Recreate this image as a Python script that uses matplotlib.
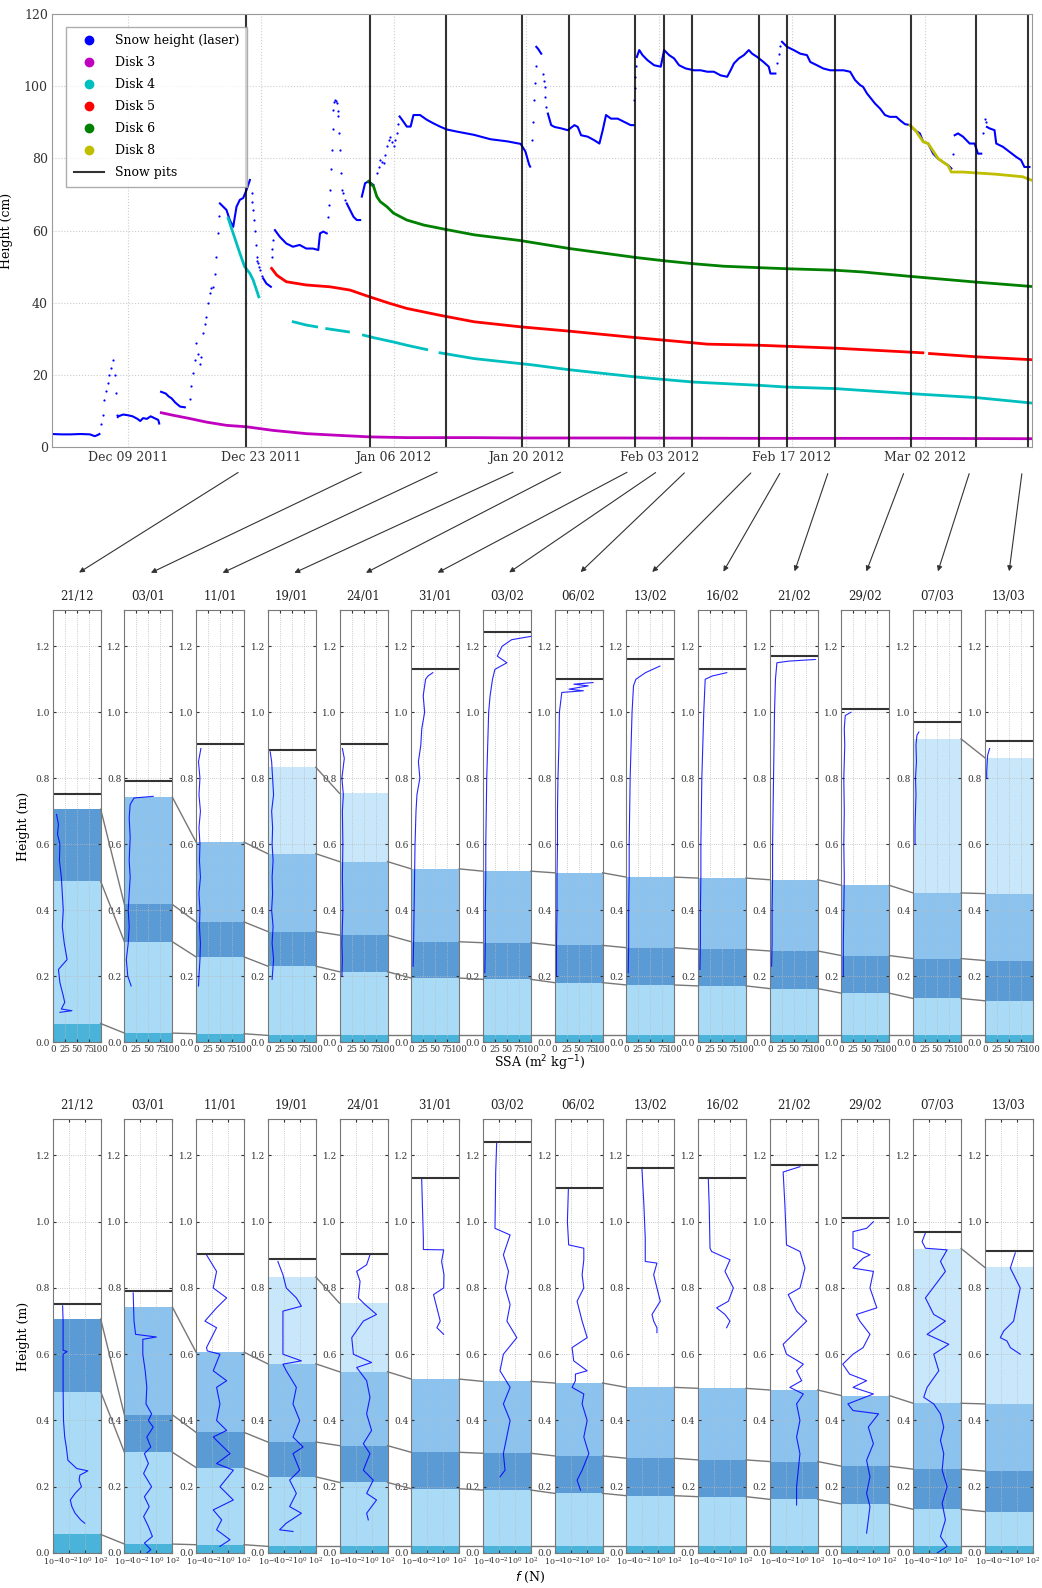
import matplotlib
matplotlib.use("Agg")
import matplotlib.pyplot as plt
import matplotlib.dates as mdates
from matplotlib.lines import Line2D
from matplotlib.patches import FancyArrowPatch
import numpy as np
from datetime import datetime, timedelta

plt.rcParams['font.family'] = ['DejaVu Serif']

# ---------------- data: top panel (days since 2011-12-01, height in cm) -------------
T0 = datetime(2011, 12, 1)
NAN = float('nan')

laser_line_days = [0, 1, 2, 3, 4, 4.5, 4.8, 5.0, NAN,
    6.94, 7.0, 7.5, 8.0, 8.5, 9.0, 9.3, 9.6, 10.0, 10.4, 10.8, 11.2, 11.3, NAN,
    11.5, 12.0, 12.3, 12.6, 13.0, 13.5, 14.0, NAN,
    17.7, 18.04, 18.39, 18.74, 19.1, 19.45, 19.8, 20.15, 20.5, 20.86, NAN,
    22.27, 22.6, 23.07, NAN,
    23.5, 24.0, 24.7, 25.4, 26.1, 26.8, 27.5, 28.07, 28.25, 28.6, 28.96, NAN,
    31.07, 31.42, 31.78, 32.13, 32.48, NAN,
    32.66, 33.0, 33.36, 33.89, NAN,
    36.64, 36.9, 37.4, 37.8, 38.1, 38.8, 39.5, 40.2, 40.9, 41.6, 42.7, 44.5, 46.2, 48.0, 49.4, 49.9, 50.3, 50.4, NAN,
    51.05, 51.22, 51.57, NAN,
    52.27, 52.62, 52.97, 53.67, 54.37, 55.07, 55.42, 55.77, 56.47, 57.17, 57.7, 58.05, 58.4, 58.92, 59.63, 60.32, 61.0, 61.3, NAN,
    61.65, 61.9, 62.25, 62.77, 63.47, 64.17, 64.52, 65.05, 65.57, 66.1, 66.8, 67.68, 68.37, 69.08, 69.77, 70.47, 71.17, 71.53, 71.88, 72.4, 72.93, 73.45, 73.8, 74.33, 75.0, 75.55, 75.73, 76.25, NAN,
    76.95, 77.48, 78.18, 78.88, 79.58, 79.93, 80.63, 81.3, 82.03, 82.73, 83.43, 84.13, 84.65, 85.18, 85.5, 85.9, 86.2, 86.75, 87.28, 87.8, 88.3, 89.0, 89.37, 89.9, 90.43, 90.95, 91.48, 91.83, 92.35, 92.88, 93.4, 93.9, 94.45, 94.8, NAN,
    95.15, 95.5, 96.03, 96.73, 97.25, 97.6, 97.95, NAN,
    98.55, 98.83, 99.35, 99.53, 100.23, 100.93, 101.63, 102.15, 102.5, 103.03]
laser_line_cm = [3.6, 3.5, 3.5, 3.6, 3.5, 3.0, 3.3, 3.6, NAN,
    8.3, 8.5, 9.0, 8.8, 8.5, 7.8, 7.2, 8.0, 7.8, 8.5, 8.0, 7.5, 6.5, NAN,
    15.3, 14.8, 14.0, 13.5, 12.3, 11.2, 11.0, NAN,
    67.5, 66.6, 65.7, 62.9, 61.0, 66.6, 68.5, 69.0, 71.2, 74.0, NAN,
    46.7, 45.3, 44.4, NAN,
    60.1, 58.3, 56.4, 55.5, 56.0, 55.0, 55.0, 54.6, 59.2, 59.7, 59.2, NAN,
    67.5, 65.7, 63.8, 62.9, 62.9, NAN,
    69.4, 73.1, 73.6, 72.6, NAN,
    91.6, 90.7, 88.8, 88.8, 92.0, 92.0, 90.7, 89.7, 88.8, 88.0, 87.4, 86.5, 85.3, 84.7, 84.0, 81.9, 78.2, 77.7, NAN,
    110.9, 110.4, 109.0, NAN,
    92.4, 89.2, 88.7, 88.3, 87.8, 89.2, 88.7, 86.4, 86.0, 85.0, 84.1, 87.8, 92.0, 91.0, 91.0, 90.1, 89.2, 89.2, NAN,
    108.1, 110.0, 108.6, 107.2, 105.8, 105.4, 110.0, 108.6, 107.7, 105.8, 104.9, 104.4, 104.4, 104.0, 104.0, 103.0, 102.6, 104.4, 106.3, 107.7, 108.6, 110.0, 109.0, 108.1, 106.7, 105.4, 103.5, 103.5, NAN,
    112.3, 110.9, 110.0, 109.0, 108.6, 106.7, 105.8, 104.9, 104.4, 104.4, 104.4, 104.0, 101.7, 100.3, 99.8, 98.0, 97.0, 95.2, 93.8, 92.0, 91.5, 91.5, 90.6, 89.5, 89.2, 87.8, 86.9, 84.6, 84.1, 81.3, 79.9, 79.0, 78.1, 77.2, NAN,
    86.4, 86.9, 86.0, 84.1, 84.1, 81.3, 81.3, NAN,
    88.7, 88.3, 87.8, 84.1, 83.2, 81.8, 80.4, 79.5, 77.6, 77.6]

laser_dot_days = [5.18, 5.35, 5.53, 5.7, 5.89, 6.05, 6.24, 6.41, 6.6, 6.7, 6.84,
    14.5, 14.7, 14.87, 15.05, 15.22, 15.4, 15.55, 15.75, 15.93, 16.1, 16.28, 16.45, 16.63, 16.8, 16.98, 17.15, 17.33, 17.51, 17.6,
    21.03, 21.12, 21.2, 21.29, 21.38, 21.47, 21.56, 21.65, 21.74, 21.83, 21.91, 22.1,
    23.15, 23.24, 23.32,
    29.13, 29.22, 29.31, 29.4, 29.49, 29.57, 29.66, 29.75, 29.84, 29.92, 30.0, 30.1, 30.19, 30.28, 30.37, 30.45, 30.54, 30.7, 30.9,
    34.24, 34.42, 34.6, 34.78, 34.95, 35.12, 35.3, 35.48, 35.65, 35.83, 36.0, 36.18, 36.36, 36.5,
    50.6, 50.7, 50.8, 50.88, 50.97,
    51.75, 51.83, 51.92, 52.0, 52.1,
    61.37, 61.43, 61.48, 61.56,
    76.43, 76.6, 76.78,
    95.0,
    98.13, 98.3, 98.4]
laser_dot_cm = [6.5, 9, 13, 15.5, 17.6, 20, 22, 24, 20, 15, 9,
    13.4, 17, 20.4, 24, 28.7, 25.9, 23, 25, 31.5, 34, 36, 40, 42.6, 44, 44.4, 48, 52.7, 59.2, 64,
    70.3, 68, 65.7, 63, 60, 56, 52.7, 51.5, 50.9, 50, 49, 47.5,
    52.7, 55, 57.4,
    63.8, 67, 71.2, 77, 82.3, 88, 93.4, 95.5, 96.2, 95.8, 95.3, 93, 91.6, 87, 82.3, 76, 71.2, 70.3, 68.5,
    75.9, 77.5, 79.6, 79, 78.6, 81, 83.3, 85, 86, 84.5, 83.3, 85, 87, 89.5,
    85.1, 90, 96.2, 101, 105.5,
    103.5, 101.5, 99.8, 97, 94.3,
    96.1, 99.5, 102.6, 105.5,
    106.3, 109, 111,
    81.3,
    86.9, 91.0, 90]

disk3_days = [11.52, 12.75, 14.5, 16.28, 18.39, 20.5, 23.3, 26.8, 30.4, 33.5, 37.4, 44.5, 49.4, 60, 75, 90, 103.2]
disk3_cm = [9.5, 8.8, 7.9, 6.9, 6.0, 5.6, 4.6, 3.7, 3.2, 2.8, 2.6, 2.6, 2.5, 2.5, 2.4, 2.4, 2.3]

disk4_days = [18.57, 19.1, 19.8, 20.3, 20.86, 21.2, 21.56, 21.8, NAN,
    25.43, 26.8, 27.9, NAN, 28.96, 31.25, NAN,
    32.83, 33.9, 36.0, 37.4, 39.5, NAN,
    40.9, 44.5, 49.4, 50.5, 54.55, 61.6, 64.56, 67.57, 74.5, 77.5, 82.5, 90.4, 97.4, 103.2]
disk4_cm = [63.4, 59.2, 53.7, 50.0, 48.1, 46.3, 43.5, 41.6, NAN,
    34.7, 33.8, 33.3, NAN, 32.8, 31.9, NAN,
    31.0, 30.3, 29.1, 28.2, 27.0, NAN,
    26.1, 24.5, 23.1, 22.8, 21.4, 19.4, 18.7, 18.0, 17.1, 16.6, 16.2, 14.8, 13.7, 12.2]

disk5_days = [23.15, 23.7, 24.7, 26.8, 29.3, 31.4, 33.5, 35.6, 37.4, 40.9, 44.5, 49.4, 54.55, 61.6, 64.56, 69.1, 74.5, 82.5, 91.8, NAN,
    92.5, 97.4, 103.2]
disk5_cm = [49.5, 47.6, 45.8, 44.9, 44.4, 43.5, 41.6, 39.8, 38.4, 36.5, 34.7, 33.3, 32.1, 30.3, 29.6, 28.5, 28.2, 27.4, 26.1, NAN,
    25.9, 25.0, 24.2]

disk6_days = [33.36, 33.9, 34.24, 34.6, 35.3, 36.0, 37.4, 39.2, 41.5, 44.5, 49.4, 54.55, 61.6, 64.56, 67.57, 70.8, 74.5, 77.5, 82.5, 85.5, 90.4, 97.4, 103.2]
disk6_cm = [73.6, 72.2, 69.4, 68.0, 66.6, 64.8, 62.9, 61.5, 60.3, 58.8, 57.2, 55.0, 52.5, 51.6, 50.8, 50.1, 49.7, 49.4, 49.0, 48.5, 47.3, 45.7, 44.5]

disk8_days = [90.43, 91.0, 91.83, 92.35, 93.4, 93.9, 94.45, 94.8, 96.0, 99.5, 102.3, 103.2]
disk8_cm = [89.2, 87.8, 84.6, 84.1, 80.0, 79.0, 78.0, 76.2, 76.2, 75.6, 74.9, 74.0]

pit_days = [20.5, 33.5, 41.5, 49.5, 54.5, 61.5, 64.5, 67.5, 74.5, 77.5, 82.5, 90.5, 97.4, 102.9]
pit_labels = ['21/12', '03/01', '11/01', '19/01', '24/01', '31/01', '03/02',
              '06/02', '13/02', '16/02', '21/02', '29/02', '07/03', '13/03']
date_ticks = [datetime(2011, 12, 9), datetime(2011, 12, 23), datetime(2012, 1, 6),
              datetime(2012, 1, 20), datetime(2012, 2, 3), datetime(2012, 2, 17), datetime(2012, 3, 2)]

# ---------------- data: snow pits ----------------
surface_m = [0.751, 0.792, 0.903, 0.886, 0.903, 1.131, 1.242, 1.101, 1.161, 1.131, 1.170, 1.011, 0.969, 0.912]
# top of each layer (m), None if absent
layer_ground = [0.056, 0.027, 0.025, 0.02, 0.02, 0.02, 0.02, 0.02, 0.02, 0.02, 0.02, 0.02, 0.02, 0.02]
layer_light = [0.487, 0.304, 0.258, 0.230, 0.213, 0.194, 0.190, 0.180, 0.173, 0.170, 0.162, 0.148, 0.132, 0.125]
layer_dark = [0.706, 0.417, 0.364, 0.335, 0.324, 0.304, 0.301, 0.293, 0.286, 0.281, 0.276, 0.262, 0.253, 0.247]
layer_medium = [None, 0.742, 0.606, 0.571, 0.547, 0.525, 0.518, 0.513, 0.500, 0.497, 0.492, 0.475, 0.452, 0.450]
layer_pale = [None, None, None, 0.833, 0.754, None, None, None, None, None, None, None, 0.919, 0.862]

# SSA profiles: (height m, SSA m2/kg)
ssa_h = [
    [0.69, 0.66, 0.63, 0.60, 0.55, 0.50, 0.45, 0.40, 0.35, 0.30, 0.25, 0.22, 0.18, 0.14, 0.12, 0.10, 0.095, 0.09],
    [0.745, 0.74, 0.72, 0.68, 0.62, 0.55, 0.50, 0.45, 0.40, 0.35, 0.30, 0.25, 0.20, 0.17],
    [0.89, 0.85, 0.80, 0.75, 0.70, 0.65, 0.60, 0.55, 0.50, 0.45, 0.40, 0.35, 0.30, 0.25, 0.20, 0.17],
    [0.88, 0.85, 0.80, 0.75, 0.70, 0.65, 0.60, 0.55, 0.50, 0.45, 0.40, 0.35, 0.30, 0.25, 0.21, 0.19],
    [0.89, 0.86, 0.80, 0.75, 0.70, 0.60, 0.50, 0.40, 0.30, 0.25, 0.20],
    [1.12, 1.11, 1.10, 1.05, 1.00, 0.95, 0.90, 0.85, 0.80, 0.75, 0.70, 0.60, 0.50, 0.40, 0.30, 0.23],
    [1.23, 1.22, 1.20, 1.17, 1.15, 1.13, 1.10, 1.05, 1.00, 0.90, 0.80, 0.70, 0.60, 0.50, 0.40, 0.30, 0.21],
    [1.09, 1.085, 1.08, 1.07, 1.065, 1.06, 1.00, 0.90, 0.80, 0.70, 0.60, 0.50, 0.40, 0.30, 0.20],
    [1.14, 1.12, 1.11, 1.10, 1.08, 1.00, 0.90, 0.80, 0.70, 0.60, 0.50, 0.40, 0.30, 0.21],
    [1.12, 1.11, 1.10, 1.00, 0.90, 0.80, 0.70, 0.60, 0.50, 0.40, 0.30, 0.22],
    [1.16, 1.155, 1.15, 1.10, 1.00, 0.90, 0.80, 0.70, 0.60, 0.50, 0.40, 0.30, 0.23],
    [1.00, 0.99, 0.95, 0.90, 0.80, 0.70, 0.60, 0.50, 0.40, 0.30, 0.20],
    [0.94, 0.93, 0.90, 0.85, 0.80, 0.75, 0.70, 0.65, 0.60],
    [0.89, 0.87, 0.85, 0.82, 0.80],
]
ssa_v = [
    [8, 12, 10, 15, 14, 18, 20, 22, 20, 24, 30, 12, 15, 22, 25, 18, 40, 15],
    [60, 20, 12, 10, 12, 10, 12, 10, 8, 10, 8, 4, 7, 14],
    [10, 5, 8, 6, 9, 6, 8, 7, 9, 6, 8, 7, 9, 8, 6, 5],
    [5, 8, 10, 12, 8, 10, 9, 11, 9, 10, 8, 11, 9, 12, 10, 9],
    [6, 10, 5, 8, 6, 7, 6, 7, 5, 6, 5],
    [45, 35, 30, 25, 28, 22, 20, 15, 18, 12, 10, 8, 7, 6, 5, 4],
    [100, 60, 40, 30, 50, 25, 20, 15, 12, 10, 8, 7, 6, 6, 5, 5, 4],
    [80, 40, 70, 30, 60, 15, 10, 9, 7, 6, 6, 5, 5, 4, 4],
    [70, 40, 30, 20, 15, 12, 10, 8, 7, 6, 6, 5, 5, 4],
    [60, 30, 15, 12, 10, 8, 7, 6, 6, 5, 5, 4],
    [95, 40, 15, 12, 10, 9, 8, 7, 6, 6, 5, 5, 4],
    [20, 8, 6, 7, 5, 6, 5, 6, 5, 4, 4],
    [12, 8, 6, 7, 5, 6, 5, 4, 4],
    [10, 6, 5, 4, 4],
]

# Penetration force profiles: (height m, log10 force N)
force_h = [
    [0.746, 0.70, 0.612, 0.608, 0.60, 0.50, 0.40, 0.35, 0.32, 0.28, 0.255, 0.248, 0.235, 0.22, 0.20, 0.18, 0.16, 0.14, 0.12, 0.10, 0.09],
    [0.785, 0.70, 0.66, 0.652, 0.645, 0.60, 0.55, 0.50, 0.45, 0.42, 0.40, 0.38, 0.35, 0.32, 0.30, 0.27, 0.24, 0.20, 0.17, 0.14, 0.11, 0.08, 0.05, 0.03, 0.01, 0.0],
    [0.90, 0.85, 0.80, 0.77, 0.74, 0.70, 0.68, 0.62, 0.61, 0.60, 0.55, 0.52, 0.50, 0.45, 0.40, 0.37, 0.35, 0.30, 0.27, 0.25, 0.20, 0.16, 0.13, 0.10, 0.07, 0.04, 0.02],
    [0.88, 0.84, 0.80, 0.77, 0.745, 0.73, 0.70, 0.65, 0.60, 0.58, 0.57, 0.55, 0.50, 0.45, 0.40, 0.35, 0.32, 0.30, 0.25, 0.22, 0.18, 0.14, 0.12, 0.09, 0.07, 0.065],
    [0.90, 0.87, 0.85, 0.82, 0.77, 0.75, 0.72, 0.70, 0.65, 0.60, 0.575, 0.56, 0.52, 0.47, 0.42, 0.37, 0.33, 0.30, 0.25, 0.22, 0.18, 0.16, 0.12, 0.10],
    [1.128, 1.05, 0.95, 0.916, 0.915, 0.88, 0.84, 0.80, 0.78, 0.74, 0.70, 0.68, 0.66],
    [1.238, 1.15, 1.05, 0.98, 0.96, 0.90, 0.85, 0.80, 0.75, 0.70, 0.65, 0.60, 0.55, 0.50, 0.45, 0.40, 0.35, 0.30, 0.25, 0.23],
    [1.097, 1.00, 0.93, 0.92, 0.885, 0.84, 0.80, 0.76, 0.70, 0.65, 0.62, 0.58, 0.55, 0.54, 0.52, 0.50, 0.48, 0.45, 0.40, 0.35, 0.30, 0.25, 0.22, 0.19],
    [1.158, 1.05, 0.95, 0.88, 0.875, 0.84, 0.80, 0.76, 0.72, 0.70, 0.68, 0.665],
    [1.128, 1.05, 0.92, 0.91, 0.885, 0.85, 0.80, 0.76, 0.74, 0.72, 0.70, 0.68],
    [1.166, 1.15, 1.05, 0.93, 0.91, 0.86, 0.80, 0.78, 0.73, 0.70, 0.66, 0.63, 0.60, 0.57, 0.55, 0.52, 0.50, 0.48, 0.45, 0.40, 0.35, 0.30, 0.25, 0.20, 0.145],
    [1.00, 0.98, 0.97, 0.92, 0.90, 0.89, 0.86, 0.85, 0.80, 0.74, 0.72, 0.70, 0.66, 0.62, 0.60, 0.57, 0.54, 0.52, 0.50, 0.48, 0.45, 0.43, 0.42, 0.38, 0.33, 0.28, 0.23, 0.18, 0.14, 0.06],
    [0.966, 0.94, 0.92, 0.915, 0.88, 0.85, 0.77, 0.72, 0.70, 0.66, 0.63, 0.60, 0.55, 0.50, 0.47, 0.45, 0.42, 0.38, 0.34, 0.30, 0.25, 0.20, 0.15, 0.10, 0.05, 0.02, 0.0],
    [0.906, 0.86, 0.80, 0.75, 0.70, 0.67, 0.65, 0.64, 0.62, 0.60],
]
force_lf = [
    [-2.76, -2.7, -2.7, -2.2, -2.7, -2.7, -2.65, -2.5, -2.3, -2.1, -1.0, 0.4, -0.6, -0.7, -0.4, -1.2, -1.8, -1.6, -1.2, -0.5, 0.0],
    [-2.9, -2.8, -2.6, 0.0, -1.7, -1.7, -1.4, -1.2, -1.3, -0.6, -1.0, -0.4, -1.2, -0.7, -1.5, -1.0, -1.6, -0.6, -1.5, -0.9, -1.6, -1.0, -0.5, -1.5, -0.7, -1.2],
    [-2.7, -1.44, -1.86, -0.18, -1.44, -2.9, -1.44, -2.7, -2.6, -1.02, -1.86, -0.18, -1.44, -1.02, -1.44, -0.18, -1.86, 0.24, -1.44, 0.66, -1.02, 0.65, -1.86, -0.8, -1.44, 0.24, -1.02],
    [-2.74, -2.11, -1.69, -0.43, 0.2, -2.11, -2.11, -2.11, -2.11, 0.2, -2.11, -1.69, -0.43, -0.85, -0.01, -0.85, 0.41, -0.85, -0.01, -1.27, -0.43, -1.27, 0.2, -1.69, -2.53, -0.85],
    [-0.19, -0.61, -1.85, -1.43, -1.64, -0.81, 0.63, -1.02, -2.47, -2.26, 0.01, -1.85, -0.61, -0.19, -0.61, 0.01, -1.02, -0.19, -1.02, 0.22, -0.61, 0.63, -0.61, -0.4],
    [-2.69, -2.6, -2.48, -2.48, 0.06, -0.2, 0.1, 0.06, -1.21, -0.79, -0.37, -0.79, 0.06],
    [-2.28, -2.4, -2.45, -2.49, -0.6, -1.44, -0.8, -1.2, -0.6, -1.0, 0.24, -1.44, -1.86, -0.6, -1.44, -0.6, -1.02, -1.44, -1.23, -1.86],
    [-2.28, -2.4, -2.24, -0.35, -0.35, -0.56, -0.35, -1.19, -0.56, 0.07, -1.82, -1.61, 0.07, -1.4, -1.4, -1.82, -0.35, -0.56, 0.07, -0.35, 0.28, -0.56, -1.19, -0.77],
    [-2.04, -1.8, -1.63, -1.63, -0.17, -0.58, -0.17, 0.25, -0.79, -0.58, -0.17, -0.17],
    [-2.71, -2.6, -2.5, -2.29, 0.0, -0.63, 0.42, -0.2, -1.67, -0.63, 0.0, -0.42],
    [-0.22, -2.32, -2.1, -1.9, -0.22, 0.41, -0.22, -1.69, -0.64, 0.62, -1.06, -2.32, -1.9, 0.2, -0.64, -0.01, -1.48, 0.2, -0.64, -0.22, -0.64, -0.22, -0.43, -0.64, -0.64],
    [0.0, -0.85, -2.55, -2.55, -0.43, -1.28, -2.55, 0.0, -0.43, 0.43, -2.13, -1.7, -0.43, -1.28, -2.55, -3.83, -2.98, -0.85, -2.55, 0.0, -3.19, -2.55, 0.64, -0.64, 0.0, -0.85, -0.43, -0.85, -0.43, -0.85],
    [-2.46, -2.88, -2.46, 0.25, -0.58, 0.04, -2.46, -1.42, 0.04, -2.25, 0.46, -1.42, -0.79, -2.25, -2.67, -1.42, -0.58, -0.17, -0.58, -0.17, -0.37, 0.25, -0.37, 0.04, -0.58, 0.25, -1.0],
    [-0.19, -0.81, 0.43, 0.01, -0.4, -1.64, -2.06, -1.23, -0.81, 0.43],
]

# ---------------- styling ----------------
C_GROUND = '#4ab3da'
C_LIGHT = '#a9dbf7'
C_DARK = '#5b9bd5'
C_MEDIUM = '#8cc2ee'
C_PALE = '#c8e7fa'
SPINE = '#777777'
FW, FH = 1042, 1588

fig = plt.figure(figsize=(FW / 100, FH / 100), dpi=100)


def rect(x0, y0, x1, y1):
    return [x0 / FW, 1 - y1 / FH, (x1 - x0) / FW, (y1 - y0) / FH]


def dn(days):
    base = mdates.date2num(T0)
    return [base + d for d in days]


# ---------------- top axes ----------------
ax = fig.add_axes(rect(52, 14, 1032, 447))
ax.plot(dn(laser_line_days), laser_line_cm, color='b', lw=1.5)
ax.plot(dn(laser_dot_days), laser_dot_cm, 'o', color='b', ms=1.6, mew=0)
ax.plot(dn(disk3_days), disk3_cm, color='m', lw=2)
ax.plot(dn(disk4_days), disk4_cm, color='c', lw=2)
ax.plot(dn(disk5_days), disk5_cm, color='r', lw=2)
ax.plot(dn(disk6_days), disk6_cm, color='g', lw=2)
ax.plot(dn(disk8_days), disk8_cm, color='y', lw=2)
for d in pit_days:
    ax.axvline(dn([d])[0], color='k', lw=1.5, alpha=0.8)
ax.set_ylim(0, 120)
ax.set_xlim(dn([0])[0], dn([103.3])[0])
ax.set_yticks(range(0, 121, 20))
ax.set_xticks(mdates.date2num(date_ticks))
ax.xaxis.set_major_formatter(mdates.DateFormatter('%b %d %Y'))
ax.grid(True, color='#cccccc', ls=':', lw=0.8)
ax.set_ylabel('Height (cm)', fontsize=9, labelpad=8)
ax.tick_params(labelsize=9, length=0, pad=3, colors='#333333')
for s in ax.spines.values():
    s.set_color('#999999')
handles = [Line2D([], [], ls='none', marker='o', ms=6, color=c, label=l)
           for c, l in [('b', 'Snow height (laser)'), ('m', 'Disk 3'), ('c', 'Disk 4'),
                        ('r', 'Disk 5'), ('g', 'Disk 6'), ('y', 'Disk 8')]]
handles.append(Line2D([], [], color='k', lw=1.5, alpha=0.8, label='Snow pits'))
leg = ax.legend(handles=handles, loc='upper left', fontsize=9, frameon=True, fancybox=False,
                edgecolor='#999999', borderpad=0.6, labelspacing=0.72, handlelength=2.4,
                handletextpad=0.9, bbox_to_anchor=(0.008, 0.985))

# ---------------- panels ----------------
YMAX = 1.31
rows = [(610, 1042), (1119, 1553)]
for r, (top, bot) in enumerate(rows):
    for i in range(14):
        x0 = 52.7 + i * 71.7
        pa = fig.add_axes(rect(x0, top, x0 + 48, bot))
        layers = [(0, layer_ground[i], C_GROUND), (layer_ground[i], layer_light[i], C_LIGHT),
                  (layer_light[i], layer_dark[i], C_DARK)]
        if layer_medium[i] is not None:
            layers.append((layer_dark[i], layer_medium[i], C_MEDIUM))
        if layer_pale[i] is not None:
            layers.append((layer_medium[i], layer_pale[i], C_PALE))
        for lo, hi, c in layers:
            pa.axhspan(lo, hi, color=c, lw=0, zorder=0)
        if r == 0:
            pa.plot(ssa_v[i], ssa_h[i], color='b', lw=0.8, alpha=0.85)
            pa.set_xlim(0, 100)
            pa.set_xticks([0, 25, 50, 75, 100])
            xls = 6.2
        else:
            pa.plot([10 ** v for v in force_lf[i]], force_h[i], color='b', lw=0.8, alpha=0.85)
            pa.set_xscale('log')
            pa.set_xlim(1e-4, 1e2)
            pa.set_xticks([1e-4, 1e-2, 1e0, 1e2])
            pa.minorticks_off()
            xls = 5.8
        pa.axhline(surface_m[i], color='#333333', lw=1.5)
        pa.set_ylim(0, YMAX)
        pa.set_yticks([0, 0.2, 0.4, 0.6, 0.8, 1.0, 1.2])
        pa.yaxis.set_major_formatter(matplotlib.ticker.FormatStrFormatter('%.1f'))
        pa.grid(True, color='#bbbbbb', ls=':', lw=0.6)
        pa.tick_params(axis='y', labelsize=6.5, length=2, direction='in', pad=2, colors='#333333',
                       right=True)
        pa.tick_params(axis='x', labelsize=xls, length=2, direction='in', pad=2, colors='#333333',
                       top=True)
        for s in pa.spines.values():
            s.set_color(SPINE)
        pa.set_title(pit_labels[i], fontsize=8.5, pad=7, color='#222222')
        if i == 0:
            pa.set_ylabel('Height (m)', fontsize=9, labelpad=4)

# connecting lines between consecutive panels
for r, (top, bot) in enumerate(rows):
    for i in range(13):
        xa = (52.7 + i * 71.7 + 48) / FW
        xb = (52.7 + (i + 1) * 71.7) / FW
        for arr in (layer_ground, layer_light, layer_dark, layer_medium, layer_pale):
            if arr[i] is None or arr[i + 1] is None:
                continue
            ya = 1 - (bot - (bot - top) * arr[i] / YMAX) / FH
            yb = 1 - (bot - (bot - top) * arr[i + 1] / YMAX) / FH
            fig.add_artist(Line2D([xa, xb], [ya, yb], color='#777777', lw=1.0,
                                  transform=fig.transFigure, zorder=0.5))

fig.text(540 / FW, 1 - 1063 / FH, 'SSA (m$^2$ kg$^{-1}$)', ha='center', va='center', fontsize=9)
fig.text(530 / FW, 1 - 1577 / FH, '$f$ (N)', ha='center', va='center', fontsize=9)

# arrows from pit lines to panels
x_lo, x_hi = ax.get_xlim()
for i, d in enumerate(pit_days):
    xnum = dn([d])[0]
    xs = (52 + (xnum - x_lo) / (x_hi - x_lo) * (1032 - 52) - 6) / FW
    xe = (76.7 + i * 71.7) / FW
    arr = FancyArrowPatch((xs, 1 - 471 / FH), (xe, 1 - 574 / FH), transform=fig.transFigure,
                          arrowstyle='-|>,head_length=3,head_width=1.5', color='#333333', lw=0.8)
    fig.add_artist(arr)

fig.savefig('out.png', dpi=100)
